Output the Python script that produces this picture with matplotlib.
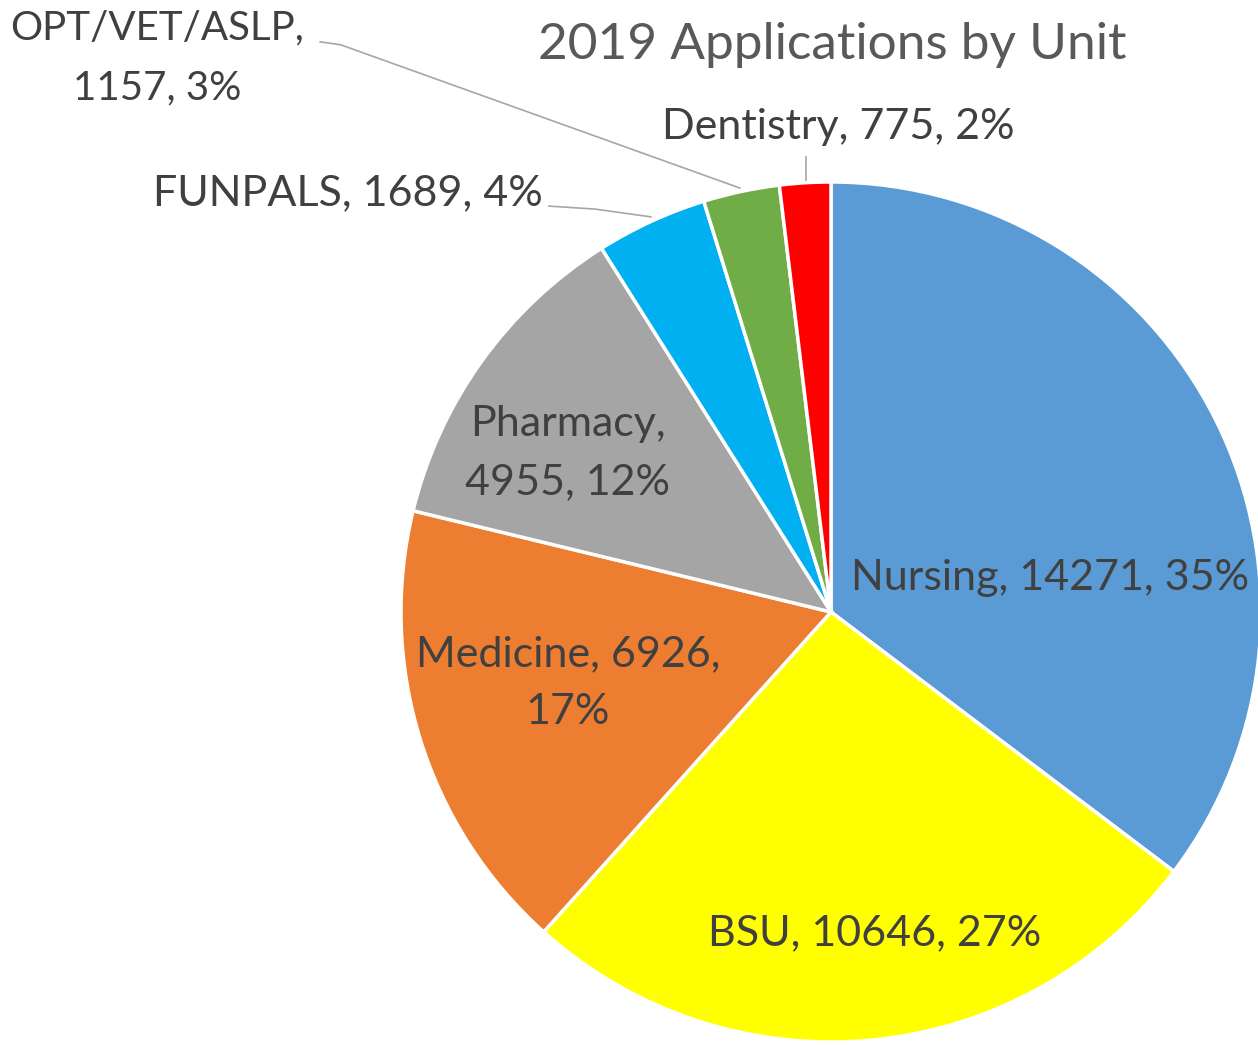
import matplotlib.pyplot as plt

plt.rcParams['font.family'] = ['Lato', 'DejaVu Sans']

# data
units = ['Nursing', 'BSU', 'Medicine', 'Pharmacy', 'FUNPALS', 'OPT/VET/ASLP', 'Dentistry']
apps = [14271, 10646, 6926, 4955, 1689, 1157, 775]
pcts = [35, 27, 17, 12, 4, 3, 2]
colors = ['#5B9BD5', '#FFFF00', '#ED7D31', '#A5A5A5', '#00B0F0', '#70AD47', '#FF0000']

fig = plt.figure(figsize=(12.58, 10.45), dpi=100)
R = 430  # pixel radius
cx, cy = 831, 612
ax = fig.add_axes([(cx - R) / 1258, (1045 - cy - R) / 1045, 2 * R / 1258, 2 * R / 1045])

wedges, _ = ax.pie(apps, colors=colors, startangle=90, counterclock=False, radius=1,
                   wedgeprops=dict(edgecolor='white', linewidth=2.5))
for w in wedges:
    w.set_clip_on(False)
ax.set_xlim(-1, 1)
ax.set_ylim(-1, 1)
ax.set_aspect('equal')
ax.axis('off')

txtc = '#404040'
fs = 31
ls = 1.65

# inside labels
ax.text(0.509, 0.079, f'{units[0]}, {apps[0]}, {pcts[0]}%', ha='center', va='center', fontsize=fs, color=txtc)
ax.text(0.102, -0.747, f'{units[1]}, {apps[1]}, {pcts[1]}%', ha='center', va='center', fontsize=fs, color=txtc)
ax.text(-0.612, -0.165, f'{units[2]}, {apps[2]},\n{pcts[2]}%', ha='center', va='center', fontsize=fs,
        color=txtc, linespacing=ls)
ax.text(-0.612, 0.37, f'{units[3]},\n{apps[3]}, {pcts[3]}%', ha='center', va='center', fontsize=fs,
        color=txtc, linespacing=ls)

# outside labels with leader lines
lc = '#A6A6A6'
ax.text(-0.67, 0.973, f'{units[4]}, {apps[4]}, {pcts[4]}%', ha='right', va='center', fontsize=fs, color=txtc)
ax.plot([-0.656, -0.549, -0.419], [0.944, 0.937, 0.919], color=lc, lw=1.2, clip_on=False)

ax.text(-1.567, 1.288, f'{units[5]},\n{apps[5]}, {pcts[5]}%', ha='center', va='center', fontsize=29,
        color=txtc, linespacing=1.75)
ax.plot([-1.188, -1.14, -0.212], [1.326, 1.319, 0.986], color=lc, lw=1.2, clip_on=False)

ax.text(0.016, 1.128, f'{units[6]}, {apps[6]}, {pcts[6]}%', ha='center', va='center', fontsize=fs, color=txtc)
ax.plot([-0.058, -0.058], [1.058, 1.005], color=lc, lw=1.2, clip_on=False)

fig.text(832 / 1258, 1 - 45 / 1045, '2019 Applications by Unit', ha='center', va='center',
         fontsize=37, color='#595959')

fig.savefig('out.png', dpi=100)
